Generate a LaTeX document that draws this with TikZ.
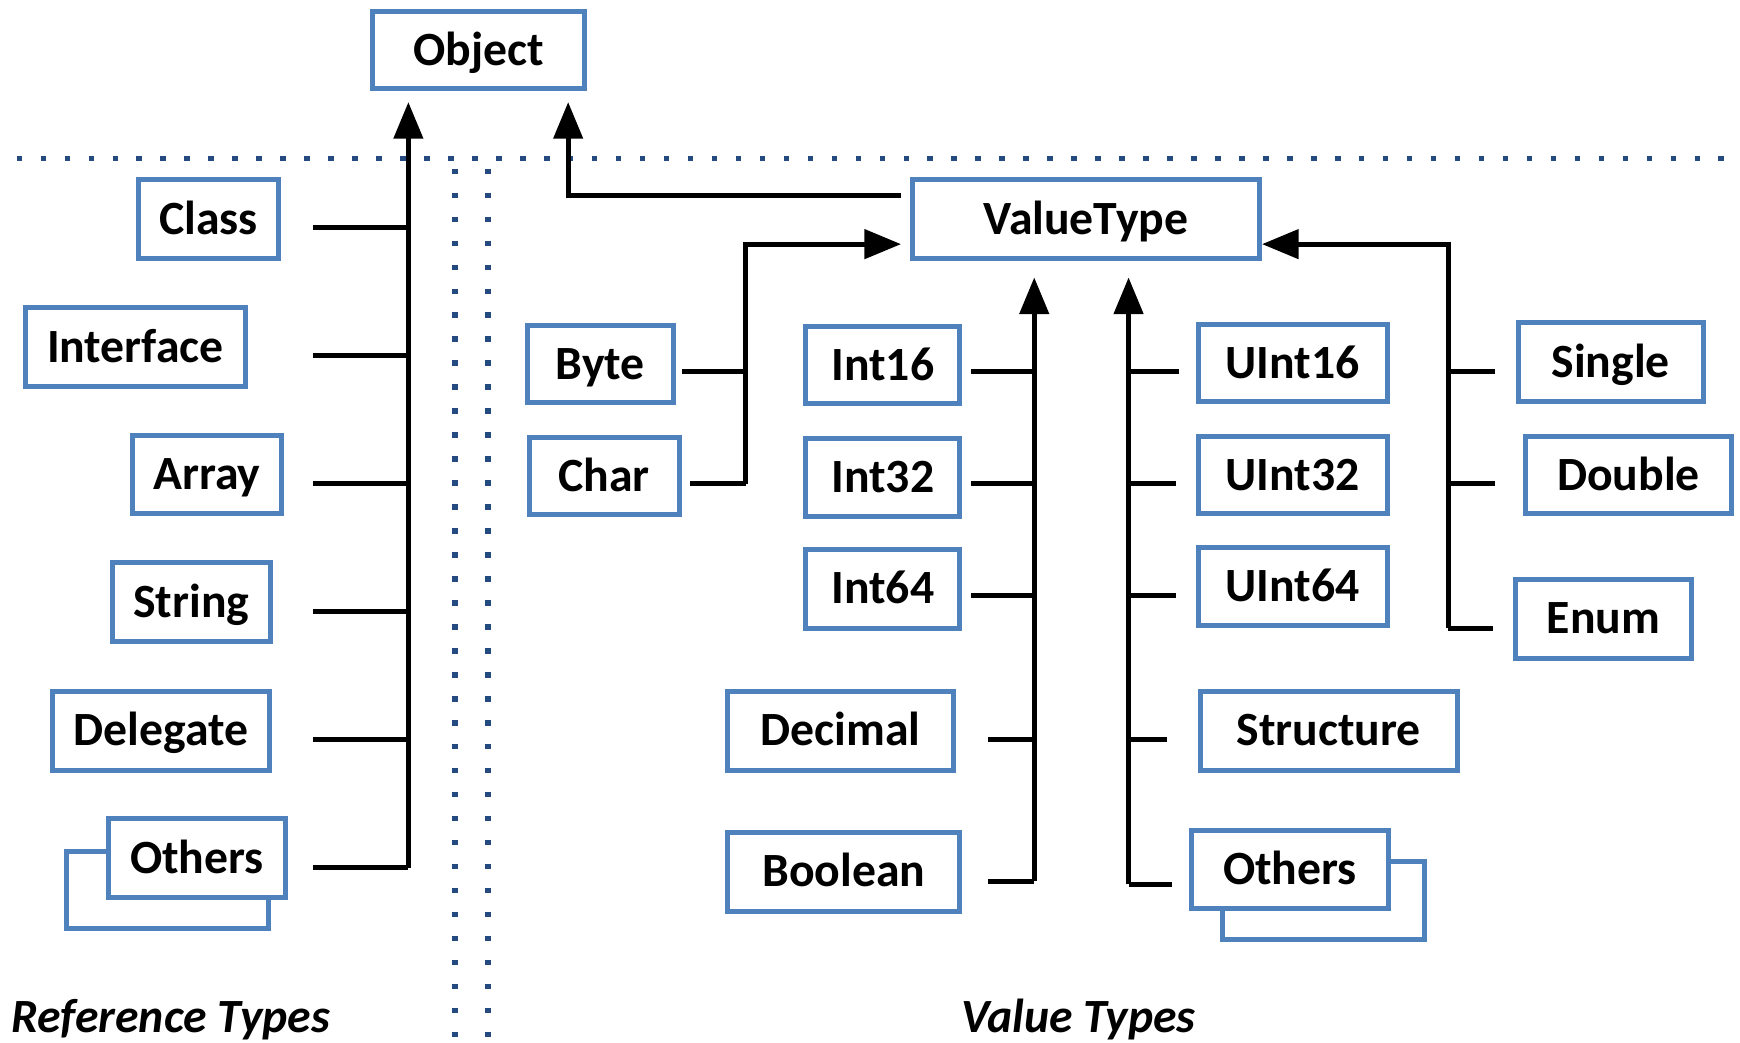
\documentclass[tikz,border=0pt]{standalone}
\usepackage{fontspec}
\setmainfont{Carlito}
\usetikzlibrary{arrows.meta}
\definecolor{boxblue}{HTML}{4F81BD}
\definecolor{dotblue}{HTML}{254A80}
\tikzset{
  typebox/.style={draw=boxblue, line width=4.5pt, fill=white, inner sep=0pt,
    font=\bfseries\fontsize{43}{50}\selectfont, text=black,
    text height=27.5pt, text depth=0pt},
  conn/.style={line width=4.5pt, black},
  arr/.style={conn, -{Triangle[length=33pt,width=26pt]}},
  sep/.style={dotblue, line width=5pt, dash pattern=on 5pt off 16.6pt},
  caption/.style={font=\bfseries\itshape\fontsize{43}{50}\selectfont, anchor=base west, inner sep=0pt}
}
\newcommand{\tbox}[6]{%
  \node[typebox, minimum width=#4pt, minimum height=#5pt] (#1) at (#2,#3) {#6};}
\begin{document}
\begin{tikzpicture}[x=1pt,y=-1pt]
\useasboundingbox (0,0) rectangle (1568,939);

% separators between the two families
\draw[sep] (15,143) -- (1568,143);
\draw[sep] (410,152) -- (410,939);
\draw[sep] (440,152) -- (440,939);

% root
\tbox{object}{431.5}{45}{191}{70}{Object}

% reference types
\tbox{class}{188}{197.5}{126}{71}{Class}
\tbox{interface}{122}{312.5}{198}{71}{Interface}
\tbox{array}{186.5}{427.5}{135}{71}{Array}
\tbox{string}{172.5}{542.5}{143}{71}{String}
\tbox{delegate}{145}{658.5}{196}{71}{Delegate}
\node[typebox, minimum width=182pt, minimum height=70pt] (refothersback) at (151,802) {};
\tbox{refothers}{177.5}{773.5}{159}{71}{Others}

\coordinate (reftop) at (368,92);
\coordinate (refbottom) at (368,782);
\draw[arr] (refbottom) -- (reftop);
\foreach \y in {205,320,436,551,666,782}
  \draw[conn] (282,\y) -- (reftop |- 0,\y);

% value types
\tbox{valuetype}{978.5}{197.5}{313}{71}{ValueType}
\coordinate (vtleftin) at (812,176);
\coordinate (vtobj) at (512,92);
\draw[arr] (vtleftin) -| (vtobj);

\tbox{byte}{541}{328}{132}{70}{Byte}
\tbox{char}{544.5}{429}{135}{70}{Char}
\coordinate (bcbus) at (672,436);
\draw[arr] (bcbus) -- (672,220) -- (812,220);
\draw[conn] (615,335) -- (672,335);
\draw[conn] (622,436) -- (bcbus);

\tbox{int16}{795.5}{329}{139}{70}{Int16}
\tbox{int32}{795.5}{430}{139}{70}{Int32}
\tbox{int64}{795.5}{530.5}{139}{71}{Int64}
\tbox{decimal}{757.5}{658.5}{203}{71}{Decimal}
\tbox{boolean}{760.5}{785.5}{209}{71}{Boolean}
\coordinate (sbus) at (932,794);
\draw[arr] (sbus) -- (932,250);
\foreach \x/\y in {875/335,875/436,875/537,890/666,890/794}
  \draw[conn] (\x,\y) -- (932,\y);

\tbox{uint16}{1165}{327}{170}{70}{UInt16}
\tbox{uint32}{1165}{428}{170}{70}{UInt32}
\tbox{uint64}{1165}{528.5}{170}{71}{UInt64}
\tbox{structure}{1197.5}{658.5}{231}{71}{Structure}
\node[typebox, minimum width=182pt, minimum height=71pt] (valothersback) at (1193,811.5) {};
\tbox{valothers}{1162.5}{783.5}{177}{71}{Others}
\coordinate (ubus) at (1017,797);
\draw[arr] (ubus) -- (1017,250);
\foreach \x/\y in {1062/335,1060/436,1060/537,1052/666,1056/797}
  \draw[conn] (1017,\y) -- (\x,\y);

\tbox{single}{1451.5}{326.5}{167}{71}{Single}
\tbox{double}{1467.5}{428}{185}{70}{Double}
\tbox{enum}{1445}{557.5}{158}{71}{Enum}
\coordinate (fbus) at (1305,566);
\draw[arr] (fbus) -- (1305,220) -- (valuetype.east |- 0,220);
\foreach \x/\y in {1347/335,1347/436,1345/566}
  \draw[conn] (1305,\y) -- (\x,\y);

% captions
\node[caption] (reflabel) at (10,930) {Reference Types};
\node[caption] (vallabel) at (866,930) {Value Types};
\end{tikzpicture}
\end{document}
